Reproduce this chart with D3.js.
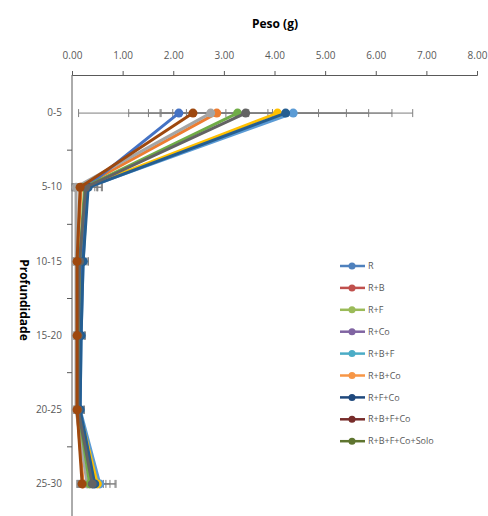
<!DOCTYPE html>
<html>
<head>
<meta charset="utf-8">
<script src="https://cdn.jsdelivr.net/npm/d3@7"></script>
<style>
  body { margin: 0; background: #fff; }
  text { font-family: "Open Sans", "Noto Sans", sans-serif; }
</style>
</head>
<body>
<div class="chart"></div>
<script>
// depth classes (y) and weights (x)
const depths = ["0-5", "5-10", "10-15", "15-20", "20-25", "25-30"];
const seriesNames = ["R", "R+B", "R+F", "R+Co", "R+B+F", "R+B+Co", "R+F+Co", "R+B+F+Co", "R+B+F+Co+Solo"];
const xTicks = [0, 1, 2, 3, 4, 5, 6, 7, 8];

// one array per treatment, one value per depth
const valR       = [4.37, 0.30, 0.22, 0.18, 0.16, 0.55];
const valRB      = [2.86, 0.18, 0.10, 0.10, 0.10, 0.22];
const valRF      = [2.74, 0.08, 0.08, 0.08, 0.08, 0.30];
const valRCo     = [4.06, 0.26, 0.18, 0.15, 0.14, 0.50];
const valRBF     = [2.11, 0.28, 0.20, 0.17, 0.15, 0.42];
const valRBCo    = [3.27, 0.25, 0.15, 0.13, 0.12, 0.35];
const valRFCo    = [4.22, 0.32, 0.22, 0.18, 0.16, 0.45];
const valRBFCo   = [2.39, 0.16, 0.10, 0.10, 0.10, 0.20];
const valSolo    = [3.43, 0.27, 0.15, 0.12, 0.12, 0.40];

// error (+/-) per depth
const errR       = [0.50, 0.20, 0.10, 0.08, 0.08, 0.30];
const errRB      = [1.10, 0.15, 0.08, 0.06, 0.06, 0.10];
const errRF      = [0.75, 0.10, 0.05, 0.05, 0.05, 0.20];
const errRCo     = [1.80, 0.25, 0.10, 0.10, 0.10, 0.37];
const errRBF     = [0.60, 0.30, 0.12, 0.08, 0.08, 0.25];
const errRBCo    = [2.15, 0.20, 0.08, 0.06, 0.06, 0.20];
const errRFCo    = [2.10, 0.28, 0.10, 0.08, 0.08, 0.30];
const errRBFCo   = [0.65, 0.12, 0.06, 0.05, 0.05, 0.10];
const errSolo    = [3.30, 0.22, 0.10, 0.07, 0.07, 0.22];

const values = [valR, valRB, valRF, valRCo, valRBF, valRBCo, valRFCo, valRBFCo, valSolo];
const errors = [errR, errRB, errRF, errRCo, errRBF, errRBCo, errRFCo, errRBFCo, errSolo];

// colours as drawn in the plot and as shown in the legend (they differ in the original)
const lineColors   = ["#5B9BD5", "#ED7D31", "#A5A5A5", "#FFC000", "#4472C4", "#70AD47", "#255E91", "#9E480E", "#636363"];
const legendColors = ["#4F81BD", "#C0504D", "#9BBB59", "#8064A2", "#4BACC6", "#F79646", "#1F497D", "#772C2A", "#5F7530"];

// brown series ends up on top in the original
const drawOrder = [0, 1, 2, 3, 4, 5, 6, 8, 7];

const W = 488, H = 516;
const svg = d3.select(".chart").append("svg")
    .attr("width", W)
    .attr("height", H);

const xScale = d3.scaleLinear().domain([0, 8]).range([72, 477]);
const yScale = d3.scaleBand().domain(depths).range([76, 521]).paddingInner(0).paddingOuter(0);
const yc = d => yScale(d) + yScale.bandwidth() / 2;

// x axis on top
const xAxis = d3.axisTop(xScale)
    .tickValues(xTicks)
    .tickSize(4)
    .tickSizeOuter(4)
    .tickPadding(12)
    .tickFormat(d3.format(".2f"));

const xAxisG = svg.append("g")
    .attr("transform", "translate(0,75)")
    .call(xAxis);
xAxisG.select(".domain").attr("stroke", "#595959");
xAxisG.selectAll(".tick line").attr("stroke", "#595959");
xAxisG.selectAll(".tick text").attr("fill", "#595959").attr("font-size", 10);

// y axis
const yAxisG = svg.append("g")
    .attr("transform", "translate(72,0)")
    .call(d3.axisLeft(yScale).tickSize(0).tickPadding(10));
yAxisG.select(".domain").remove();
yAxisG.selectAll(".tick text").attr("fill", "#595959").attr("font-size", 10);

svg.append("line")
    .attr("x1", 72).attr("x2", 72)
    .attr("y1", 75).attr("y2", H)
    .attr("stroke", "#595959");

svg.append("g").selectAll("line")
    .data(depths.slice(1))
    .join("line")
    .attr("x1", 67).attr("x2", 72)
    .attr("y1", d => yScale(d)).attr("y2", d => yScale(d))
    .attr("stroke", "#595959");

// titles
svg.append("text")
    .attr("x", 275).attr("y", 28)
    .attr("text-anchor", "middle")
    .attr("font-size", 12).attr("font-weight", "bold")
    .text("Peso (g)");

svg.append("text")
    .attr("transform", "translate(20,300) rotate(90)")
    .attr("text-anchor", "middle")
    .attr("font-size", 12).attr("font-weight", "bold")
    .text("Profundidade");

// error bars
const errG = svg.append("g");
values.forEach((vals, s) => {
    vals.forEach((v, i) => {
        const lo = xScale(Math.max(0, v - errors[s][i]));
        const hi = xScale(v + errors[s][i]);
        const y = yc(depths[i]);
        errG.append("line")
            .attr("x1", lo).attr("x2", hi).attr("y1", y).attr("y2", y)
            .attr("stroke", "#7f7f7f").attr("stroke-width", 1);
        [lo, hi].forEach(x => errG.append("line")
            .attr("x1", x).attr("x2", x).attr("y1", y - 4).attr("y2", y + 4)
            .attr("stroke", "#7f7f7f").attr("stroke-width", 1));
    });
});

// series lines and markers
const line = d3.line()
    .x(d => xScale(d.v))
    .y(d => yc(d.depth));

drawOrder.forEach(s => {
    const pts = values[s].map((v, i) => ({ v, depth: depths[i] }));
    const g = svg.append("g");
    g.append("path")
        .datum(pts)
        .attr("d", line)
        .attr("fill", "none")
        .attr("stroke", lineColors[s])
        .attr("stroke-width", 3);
    g.selectAll("circle")
        .data(pts)
        .join("circle")
        .attr("cx", d => xScale(d.v))
        .attr("cy", d => yc(d.depth))
        .attr("r", 4.5)
        .attr("fill", lineColors[s]);
});

// legend
const legend = svg.append("g").attr("transform", "translate(340,266)");
const rows = legend.selectAll("g")
    .data(seriesNames)
    .join("g")
    .attr("transform", (d, i) => `translate(0,${i * 21.9})`);
rows.append("line")
    .attr("x1", 0).attr("x2", 25)
    .attr("stroke", (d, i) => legendColors[i])
    .attr("stroke-width", 2.5);
rows.append("circle")
    .attr("cx", 12).attr("r", 3.5)
    .attr("fill", (d, i) => legendColors[i]);
rows.append("text")
    .attr("x", 28).attr("dy", "0.35em")
    .attr("font-size", 9)
    .attr("fill", "#595959")
    .text(d => d);
</script>
</body>
</html>
